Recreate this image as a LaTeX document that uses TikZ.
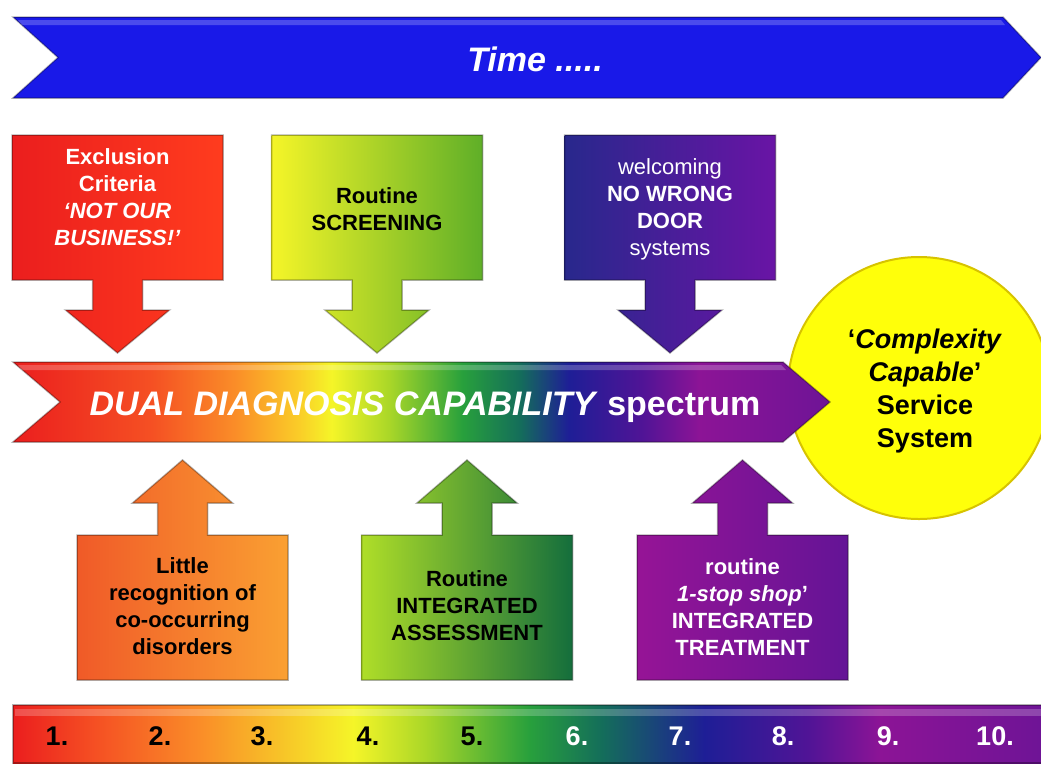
\documentclass[tikz,border=0pt]{standalone}
\usepackage{fontspec}
\setmainfont{Liberation Sans}
\definecolor{sA}{RGB}{235,30,30}
\definecolor{sB}{RGB}{245,80,35}
\definecolor{sC}{RGB}{250,140,40}
\definecolor{sD}{RGB}{250,205,40}
\definecolor{sE}{RGB}{245,245,40}
\definecolor{sF}{RGB}{170,215,40}
\definecolor{sG}{RGB}{40,160,60}
\definecolor{sH}{RGB}{20,110,90}
\definecolor{sI}{RGB}{30,30,150}
\definecolor{sJ}{RGB}{80,20,150}
\definecolor{sK}{RGB}{140,20,150}
\definecolor{sL}{RGB}{110,20,150}
\definecolor{timeblue}{RGB}{25,25,232}
\definecolor{circy}{RGB}{255,255,10}
\definecolor{circrim}{RGB}{215,195,0}
\pgfdeclarehorizontalshading{midspec}{100bp}{color(0bp)=(sA); color(25bp)=(sA); color(33.5bp)=(sB); color(38.5bp)=(sC); color(42.5bp)=(sD); color(44.5bp)=(sE); color(48bp)=(sF); color(52.5bp)=(sG); color(56bp)=(sH); color(59bp)=(sI); color(63.5bp)=(sJ); color(67bp)=(sK); color(75bp)=(sL); color(100bp)=(sL)}
\pgfdeclarehorizontalshading{barspec}{100bp}{color(0bp)=(sA); color(25bp)=(sA); color(29bp)=(sB); color(34bp)=(sC); color(41.5bp)=(sE); color(45bp)=(sF); color(50bp)=(sG); color(53.5bp)=(sH); color(58.5bp)=(sI); color(63.5bp)=(sJ); color(67bp)=(sK); color(75bp)=(sL); color(100bp)=(sL)}
\newcommand{\dncall}[2]{\shadedraw[#2] ({#1-105.5},135) -- ({#1+105.5},135) -- ({#1+105.5},280) -- ({#1+25},280) -- ({#1+25},310) -- ({#1+52},310) -- (#1,353) -- ({#1-52},310) -- ({#1-25},310) -- ({#1-25},280) -- ({#1-105.5},280) -- cycle;}
\newcommand{\upcall}[2]{\shadedraw[#2] ({#1-105.5},680) -- ({#1+105.5},680) -- ({#1+105.5},535) -- ({#1+25},535) -- ({#1+25},503) -- ({#1+50},503) -- (#1,460) -- ({#1-50},503) -- ({#1-25},503) -- ({#1-25},535) -- ({#1-105.5},535) -- cycle;}
\tikzset{
  bevel/.style={draw=black, draw opacity=0.3, line width=1.5pt, line join=miter},
  boxtxt/.style={align=center, inner sep=0pt, font=\fontsize{22}{27}\selectfont\bfseries},
  midtxt/.style={inner sep=0pt, text=white, font=\fontsize{34}{40}\selectfont\bfseries},
  numtxt/.style={inner sep=0pt, font=\fontsize{27}{30}\selectfont\bfseries},
  gloss/.style={fill=white, opacity=0.22}
}
\begin{document}
\begin{tikzpicture}[x=1pt,y=-1pt]
\useasboundingbox (0,0) rectangle (1041,764);
% top time arrow
\filldraw[fill=timeblue, bevel] (13,17) -- (1003,17) -- (1041,57.5) -- (1003,98) -- (13,98) -- (58,57.5) -- cycle;
\fill[gloss] (18,20) -- (1001,20) -- (1005,25) -- (22,25) -- cycle;
\node[midtxt, anchor=base] (time) at (535,71) {\itshape Time .....};
% upper callouts
\dncall{117.5}{left color=sA, right color={rgb,255:red,255;green,60;blue,30}, bevel}
\dncall{377}{left color={rgb,255:red,245;green,245;blue,40}, middle color={rgb,255:red,200;green,228;blue,40}, right color={rgb,255:red,95;green,175;blue,40}, bevel}
\dncall{670}{left color={rgb,255:red,40;green,40;blue,140}, right color={rgb,255:red,105;green,20;blue,165}, bevel}
\node[boxtxt, text=white] (excl) at (117.5,197) {Exclusion\\Criteria\\\textit{‘NOT OUR}\\\textit{BUSINESS!’}};
\node[boxtxt, text=black] (scr) at (377,209) {Routine\\SCREENING};
\node[boxtxt, text=white] (nwd) at (670,209) {{\mdseries welcoming}\\NO WRONG\\DOOR\\{\mdseries systems}};
% circle
\node[circle, minimum size=262pt, inner sep=0pt, fill=circy, draw=circrim, line width=2pt] (cc) at (919,388) {};
% middle spectrum arrow
\shadedraw[shading=midspec, bevel] (13,362) -- (783,362) -- (830,402) -- (783,442) -- (13,442) -- (60,402) -- cycle;
\fill[gloss] (18,365) -- (781,365) -- (786,370) -- (22,370) -- cycle;
\node[midtxt, anchor=base] (dd) at (425,415) {\textit{DUAL DIAGNOSIS CAPABILITY} spectrum};
\node[align=center, inner sep=0pt, font=\fontsize{27}{33}\selectfont\bfseries] (cctxt) at (925,391) {‘\textit{Complexity}\\\textit{Capable}’\\Service\\System};
% lower callouts
\upcall{182.5}{left color={rgb,255:red,240;green,90;blue,40}, right color={rgb,255:red,250;green,160;blue,50}, bevel}
\upcall{467}{left color={rgb,255:red,175;green,222;blue,40}, right color={rgb,255:red,20;green,110;blue,60}, bevel}
\upcall{742.5}{left color={rgb,255:red,150;green,20;blue,150}, right color={rgb,255:red,100;green,20;blue,150}, bevel}
\node[boxtxt, text=black] (lit) at (182.5,606) {Little\\recognition of\\co-occurring\\disorders};
\node[boxtxt, text=black] (ass) at (467,606) {Routine\\INTEGRATED\\ASSESSMENT};
\node[boxtxt, text=white] (trt) at (742.5,607) {routine\\\textit{1-stop shop}’\\INTEGRATED\\TREATMENT};
% bottom bar
\shadedraw[shading=barspec, bevel] (13,705) rectangle (1045,763);
\fill[gloss] (15,709) rectangle (1041,716);
\node[numtxt, anchor=base, text=black] (n1) at (57,745) {1.};
\node[numtxt, anchor=base, text=black] (n2) at (160,745) {2.};
\node[numtxt, anchor=base, text=black] (n3) at (262,745) {3.};
\node[numtxt, anchor=base, text=black] (n4) at (368,745) {4.};
\node[numtxt, anchor=base, text=black] (n5) at (472,745) {5.};
\node[numtxt, anchor=base, text=white] (n6) at (577,745) {6.};
\node[numtxt, anchor=base, text=white] (n7) at (680,745) {7.};
\node[numtxt, anchor=base, text=white] (n8) at (783,745) {8.};
\node[numtxt, anchor=base, text=white] (n9) at (888,745) {9.};
\node[numtxt, anchor=base, text=white] (n10) at (995,745) {10.};
\end{tikzpicture}
\end{document}
